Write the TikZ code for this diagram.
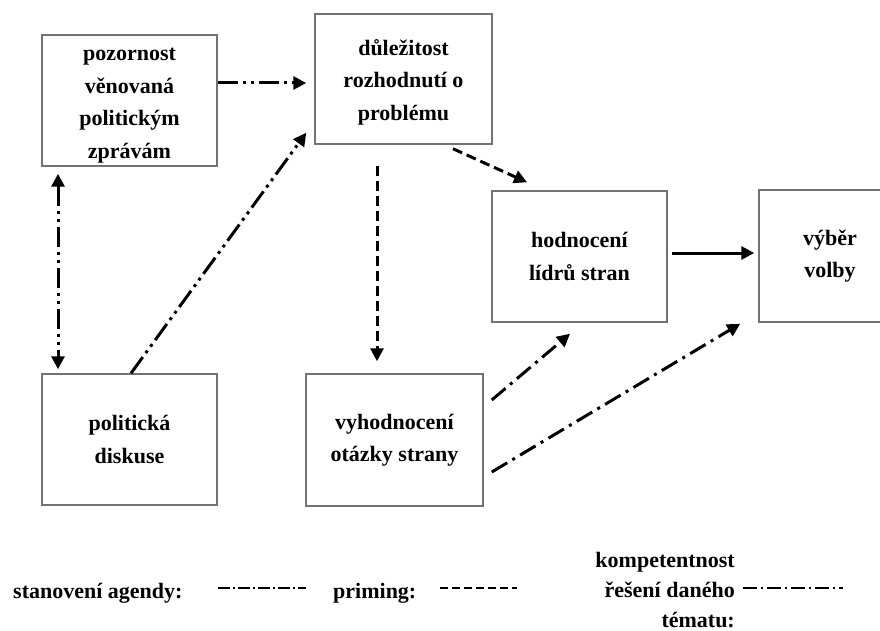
\documentclass[tikz,border=0pt]{standalone}
\usepackage{fontspec}
\setmainfont{Liberation Serif}
\usetikzlibrary{arrows.meta,calc}
\begin{document}
\begin{tikzpicture}[x=1pt,y=-1pt,
  box/.style={draw=black!55, line width=1.5pt, fill=white, inner sep=0pt, align=center,
    font=\fontsize{22}{32.5}\selectfont\bfseries},
  lbl/.style={inner sep=0pt, font=\fontsize{22}{30}\selectfont\bfseries},
  arr/.style={line width=3pt, -{Triangle[length=13pt,width=13pt]}},
  agenda/.style={dash pattern=on 20pt off 5pt on 3pt off 5pt on 3pt off 5pt},
  prim/.style={dash pattern=on 10pt off 5pt},
  komp/.style={dash pattern=on 18pt off 6pt on 3pt off 6pt},
  leg/.style={line width=2.5pt}]
\useasboundingbox (0,0) rectangle (880,631);
\fill[white] (0,0) rectangle (880,631);

\node[box, minimum width=175pt, minimum height=131pt] (b1) at (129.5,100.5)
  {\rule{0pt}{23pt}pozornost\\věnovaná\\politickým\\zprávám};
\node[box, minimum width=177pt, minimum height=130pt] (b2) at (403.5,79)
  {\rule{0pt}{22pt}důležitost\\rozhodnutí o\\problému};
\node[box, minimum width=175pt, minimum height=131pt] (b3) at (579.5,256.5)
  {hodnocení\\lídrů stran};
\node[box, minimum width=142pt, minimum height=132pt] (vb) at (830,256)
  {výběr\\volby};
\node[box, minimum width=175pt, minimum height=131pt] (pd) at (129.5,439.5)
  {politická\\diskuse};
\node[box, minimum width=177pt, minimum height=132pt] (vy) at (394.5,440)
  {vyhodnocení\\otázky strany};

% stanovení agendy
\draw[arr, agenda] ([yshift=17.5pt]b1.east) -- ([xshift=-8pt,yshift=-4pt]b2.west);
\draw[line width=3pt, {Triangle[length=13pt,width=13pt]}-{Triangle[length=13pt,width=13pt]}, agenda]
  ([xshift=-71.5pt,yshift=-7pt]b1.south) -- ([xshift=-71.5pt,yshift=4pt]pd.north);
\draw[arr, agenda] ([xshift=1.5pt]pd.north) -- ([xshift=-8pt,yshift=12pt]b2.south west);

% priming
\draw[arr, prim] ([xshift=49.5pt,yshift=-4pt]b2.south) -- ([xshift=-52.5pt,yshift=8pt]b3.north);
\draw[arr, prim] ([xshift=-26.5pt,yshift=-21pt]b2.south) -- ([xshift=-17.5pt,yshift=12pt]vy.north);

% kompetentnost
\draw[arr, komp] ([xshift=8pt,yshift=40pt]vy.east) -- ([xshift=-9.5pt,yshift=-11pt]b3.south);
\draw[arr, komp] ([xshift=8pt,yshift=-32pt]vy.east) -- ([xshift=-18pt,yshift=-1pt]vb.south west);

% solid
\draw[arr] ([xshift=4pt,yshift=3.5pt]b3.east) -- ([xshift=-4pt,yshift=3pt]vb.west);

% legend
\node[lbl, anchor=base west] (la) at (13,598) {stanovení agendy:};
\node[lbl, anchor=base west] (lp) at (333,598) {priming:};
\node[lbl, anchor=east, align=right] (lk) at (735,590) {kompetentnost\\řešení daného\\tématu:};
\coordinate (a1) at (218,588); \coordinate (a2) at (306,588);
\coordinate (p1) at (440,588); \coordinate (p2) at (517,588);
\coordinate (k1) at (743,588); \coordinate (k2) at (843,588);
\draw[leg, dash pattern=on 12pt off 3pt on 2pt off 3pt] (a1) -- (a2);
\draw[leg, dash pattern=on 8pt off 4pt] (p1) -- (p2);
\draw[leg, dash pattern=on 14pt off 4pt on 2pt off 4pt] (k1) -- (k2);
\end{tikzpicture}
\end{document}
